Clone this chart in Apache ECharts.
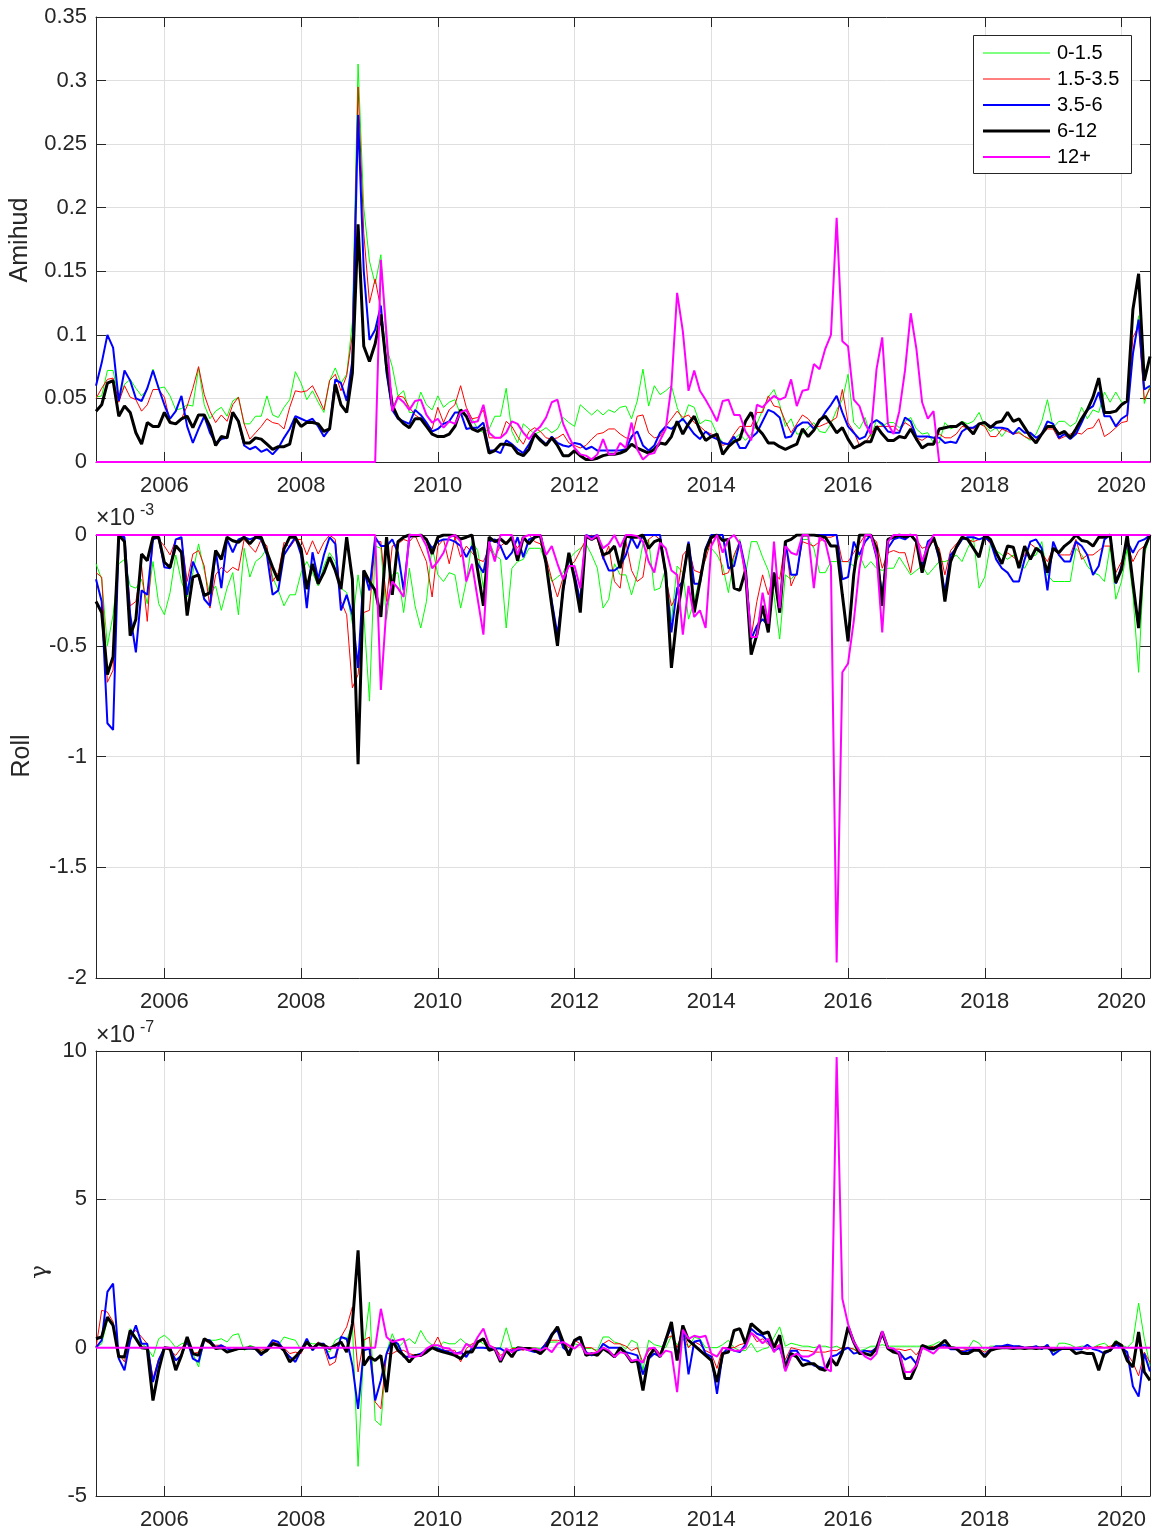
<!DOCTYPE html>
<html><head><meta charset="utf-8">
<script src="https://cdn.jsdelivr.net/npm/echarts@6/dist/echarts.min.js"></script>
<style>html,body{margin:0;padding:0;background:#fff}#c{width:1153px;height:1533px}</style>
</head><body><div id="c"></div>
<script>
// ---------------- DATA (monthly, Jan 2005 .. Jun 2020) ----------------
const seriesNames = ['0-1.5', '1.5-3.5', '3.5-6', '6-12', '12+'];
const tickYears = [2006, 2008, 2010, 2012, 2014, 2016, 2018, 2020];
const firstYear = 2005, nMonths = 186;

// Amihud
const amihud_g = [
0.051,0.052,0.072,0.072,0.049,0.061,0.065,0.058,0.052,0.057,0.073,0.058,
0.059,0.052,0.041,0.042,0.045,0.044,0.074,0.045,0.034,0.040,0.043,0.036,
0.048,0.051,0.030,0.030,0.036,0.036,0.052,0.037,0.035,0.043,0.049,0.071,
0.062,0.049,0.056,0.047,0.039,0.064,0.074,0.062,0.069,0.110,0.313,0.200,
0.158,0.140,0.163,0.090,0.075,0.052,0.056,0.039,0.039,0.055,0.045,0.041,
0.052,0.043,0.047,0.049,0.037,0.040,0.034,0.026,0.023,0.026,0.036,0.036,
0.058,0.024,0.015,0.030,0.026,0.022,0.024,0.027,0.023,0.026,0.035,0.031,
0.028,0.045,0.041,0.037,0.041,0.037,0.041,0.039,0.043,0.044,0.034,0.048,
0.073,0.044,0.060,0.053,0.056,0.060,0.043,0.032,0.045,0.043,0.030,0.033,
0.032,0.022,0.015,0.014,0.018,0.022,0.017,0.022,0.030,0.041,0.051,0.057,
0.045,0.028,0.034,0.022,0.022,0.027,0.031,0.024,0.023,0.030,0.041,0.049,
0.069,0.031,0.026,0.035,0.020,0.033,0.028,0.031,0.031,0.027,0.032,0.035,
0.026,0.022,0.023,0.015,0.015,0.031,0.026,0.028,0.032,0.030,0.032,0.039,
0.028,0.024,0.027,0.020,0.026,0.022,0.024,0.020,0.017,0.022,0.032,0.049,
0.027,0.032,0.032,0.028,0.031,0.043,0.034,0.041,0.039,0.055,0.047,0.055,
0.047,0.047,0.085,0.115,0.046,0.060];
const amihud_r = [
0.050,0.058,0.065,0.066,0.047,0.060,0.051,0.049,0.040,0.045,0.057,0.057,
0.051,0.032,0.030,0.034,0.044,0.058,0.075,0.053,0.040,0.031,0.037,0.032,
0.045,0.051,0.030,0.018,0.023,0.028,0.034,0.031,0.030,0.026,0.043,0.056,
0.055,0.056,0.060,0.051,0.041,0.064,0.069,0.056,0.068,0.100,0.295,0.180,
0.125,0.144,0.120,0.075,0.041,0.052,0.051,0.043,0.037,0.034,0.030,0.026,
0.043,0.031,0.041,0.045,0.060,0.043,0.034,0.035,0.041,0.019,0.019,0.019,
0.032,0.028,0.020,0.014,0.024,0.027,0.024,0.019,0.018,0.019,0.022,0.015,
0.013,0.011,0.013,0.018,0.022,0.023,0.026,0.026,0.022,0.019,0.018,0.036,
0.037,0.023,0.019,0.020,0.028,0.034,0.040,0.035,0.037,0.031,0.028,0.024,
0.022,0.019,0.013,0.015,0.022,0.028,0.028,0.028,0.039,0.039,0.052,0.044,
0.043,0.032,0.023,0.030,0.037,0.034,0.028,0.028,0.030,0.032,0.035,0.057,
0.031,0.024,0.013,0.015,0.022,0.028,0.028,0.028,0.028,0.024,0.031,0.028,
0.019,0.017,0.020,0.019,0.022,0.019,0.019,0.022,0.028,0.027,0.026,0.030,
0.028,0.020,0.020,0.026,0.024,0.022,0.023,0.020,0.018,0.017,0.022,0.026,
0.026,0.018,0.020,0.022,0.023,0.022,0.026,0.027,0.034,0.020,0.023,0.027,
0.031,0.032,0.098,0.107,0.049,0.058];
const amihud_b = [
0.060,0.078,0.100,0.090,0.048,0.072,0.064,0.050,0.048,0.058,0.072,0.058,
0.045,0.034,0.040,0.052,0.028,0.015,0.026,0.036,0.023,0.015,0.018,0.019,
0.039,0.032,0.013,0.010,0.012,0.008,0.010,0.006,0.011,0.019,0.026,0.036,
0.034,0.032,0.034,0.028,0.020,0.026,0.065,0.062,0.048,0.080,0.273,0.150,
0.096,0.104,0.123,0.070,0.041,0.034,0.032,0.030,0.041,0.037,0.031,0.024,
0.026,0.030,0.032,0.039,0.039,0.026,0.027,0.027,0.031,0.009,0.009,0.007,
0.017,0.014,0.010,0.007,0.014,0.022,0.018,0.014,0.020,0.015,0.013,0.012,
0.015,0.014,0.010,0.012,0.009,0.009,0.009,0.009,0.009,0.010,0.020,0.024,
0.013,0.009,0.013,0.023,0.028,0.026,0.030,0.034,0.028,0.022,0.018,0.024,
0.020,0.018,0.015,0.014,0.020,0.011,0.011,0.019,0.023,0.032,0.041,0.039,
0.035,0.019,0.020,0.028,0.031,0.031,0.026,0.032,0.039,0.045,0.052,0.039,
0.028,0.023,0.018,0.020,0.030,0.033,0.030,0.024,0.023,0.023,0.035,0.032,
0.020,0.020,0.020,0.019,0.019,0.015,0.016,0.015,0.024,0.027,0.027,0.030,
0.031,0.028,0.027,0.027,0.026,0.022,0.027,0.023,0.023,0.019,0.022,0.032,
0.030,0.019,0.022,0.018,0.022,0.031,0.041,0.044,0.055,0.036,0.036,0.028,
0.034,0.037,0.085,0.112,0.057,0.060];
const amihud_k = [
0.040,0.045,0.062,0.064,0.036,0.044,0.039,0.023,0.014,0.031,0.028,0.028,
0.039,0.031,0.030,0.034,0.036,0.027,0.037,0.037,0.028,0.013,0.020,0.019,
0.039,0.032,0.015,0.015,0.019,0.018,0.014,0.010,0.012,0.012,0.014,0.034,
0.028,0.031,0.031,0.030,0.024,0.026,0.061,0.045,0.039,0.070,0.187,0.091,
0.079,0.093,0.116,0.075,0.045,0.035,0.030,0.027,0.034,0.034,0.028,0.022,
0.020,0.020,0.022,0.028,0.041,0.036,0.026,0.024,0.027,0.007,0.009,0.014,
0.014,0.013,0.007,0.005,0.010,0.022,0.017,0.013,0.019,0.013,0.005,0.005,
0.009,0.005,0.002,0.002,0.003,0.005,0.006,0.006,0.007,0.009,0.014,0.011,
0.009,0.007,0.010,0.015,0.014,0.020,0.032,0.022,0.030,0.036,0.025,0.017,
0.020,0.022,0.006,0.012,0.016,0.018,0.032,0.039,0.027,0.022,0.015,0.015,
0.012,0.010,0.012,0.014,0.026,0.020,0.025,0.033,0.036,0.030,0.023,0.027,
0.018,0.011,0.013,0.016,0.016,0.028,0.022,0.017,0.017,0.020,0.019,0.026,
0.018,0.011,0.014,0.014,0.026,0.027,0.028,0.028,0.031,0.027,0.022,0.030,
0.031,0.027,0.031,0.032,0.039,0.032,0.034,0.027,0.020,0.015,0.022,0.028,
0.028,0.022,0.024,0.019,0.026,0.034,0.041,0.051,0.066,0.039,0.039,0.040,
0.045,0.048,0.120,0.148,0.064,0.083];
const amihud_m = [
0,0,0,0,0,0,0,0,0,0,0,0,
0,0,0,0,0,0,0,0,0,0,0,0,
0,0,0,0,0,0,0,0,0,0,0,0,
0,0,0,0,0,0,0,0,0,0,0,0,
0,0,0.159,0.100,0.040,0.051,0.047,0.041,0.048,0.049,0.037,0.031,
0.034,0.027,0.032,0.030,0.039,0.041,0.031,0.032,0.045,0.023,0.019,0.019,
0.023,0.032,0.030,0.023,0.018,0.024,0.028,0.035,0.047,0.049,0.030,0.020,
0.011,0.006,0.005,0.002,0.006,0.018,0.006,0.006,0.015,0.011,0.031,0.010,
0.002,0.006,0.007,0.017,0.026,0.060,0.133,0.103,0.056,0.072,0.056,0.049,
0.041,0.032,0.048,0.049,0.037,0.037,0.024,0.017,0.045,0.043,0.048,0.052,
0.049,0.051,0.065,0.044,0.056,0.057,0.077,0.073,0.089,0.100,0.192,0.095,
0.091,0.049,0.044,0.030,0.022,0.073,0.098,0.030,0.022,0.040,0.072,0.117,
0.089,0.047,0.034,0.040,0,0,0,0,0,0,0,0,
0,0,0,0,0,0,0,0,0,0,0,0,
0,0,0,0,0,0,0,0,0,0,0,0,
0,0,0,0,0,0];

// Roll (x 1e-3)
const roll_g = [
-0.13,-0.20,-0.50,-0.36,-0.13,-0.11,-0.23,-0.24,-0.20,-0.31,-0.12,-0.31,
-0.36,-0.26,-0.09,-0.21,-0.28,-0.17,-0.04,-0.16,-0.27,-0.23,-0.34,-0.24,
-0.17,-0.36,-0.06,-0.19,-0.12,-0.10,-0.06,-0.19,-0.25,-0.32,-0.27,-0.27,
-0.17,-0.12,-0.17,-0.23,-0.14,-0.08,-0.12,-0.24,-0.26,-0.40,-0.18,-0.36,
-0.75,-0.05,-0.06,-0.38,-0.18,-0.17,-0.35,-0.15,-0.32,-0.42,-0.30,-0.05,
-0.18,-0.21,-0.17,-0.18,-0.33,-0.21,-0.03,-0.07,-0.24,-0.03,-0.09,-0.11,
-0.42,-0.15,-0.12,-0.11,-0.06,-0.06,-0.06,-0.13,-0.21,-0.19,-0.17,-0.11,
-0.08,-0.06,-0.04,-0.09,-0.15,-0.33,-0.29,-0.13,-0.18,-0.18,-0.27,-0.18,
-0.04,-0.02,-0.25,-0.24,-0.15,-0.39,-0.14,-0.17,-0.38,-0.30,-0.19,-0.07,
-0.06,-0.09,-0.14,-0.26,-0.10,-0.02,-0.18,-0.03,-0.03,-0.10,-0.16,-0.27,
-0.47,-0.18,-0.20,-0.17,-0.02,-0.02,-0.06,-0.17,-0.17,-0.12,-0.12,-0.12,
-0.12,-0.14,-0.09,-0.15,-0.12,-0.15,-0.16,-0.15,-0.15,-0.10,-0.14,-0.18,
-0.16,-0.14,-0.18,-0.15,-0.12,-0.12,-0.11,-0.09,-0.12,-0.06,-0.01,-0.24,
-0.19,-0.04,-0.07,-0.09,-0.11,-0.09,-0.13,-0.15,-0.10,-0.09,-0.03,-0.18,
-0.21,-0.21,-0.21,-0.21,-0.06,-0.09,-0.14,-0.17,-0.18,-0.21,-0.05,-0.29,
-0.21,-0.06,-0.27,-0.62,-0.09,0];
const roll_r = [
-0.17,-0.19,-0.665,-0.61,-0.01,-0.02,-0.32,-0.30,-0.14,-0.39,-0.01,-0.02,
-0.05,-0.09,-0.02,-0.02,-0.21,-0.086,-0.07,-0.14,-0.33,-0.18,-0.146,-0.17,
-0.146,-0.16,-0.02,-0.05,-0.078,-0.02,-0.05,-0.21,-0.17,-0.033,-0.056,-0.02,
-0.02,-0.09,-0.026,-0.086,-0.033,0,-0.02,-0.30,-0.36,-0.69,-0.63,-0.35,
-0.34,-0.03,-0.03,-0.30,-0.05,-0.04,-0.02,-0.03,0,-0.06,-0.12,-0.28,
-0.05,-0.02,-0.13,-0.01,-0.10,-0.05,-0.08,-0.11,-0.12,-0.06,-0.10,-0.05,
-0.03,-0.02,-0.06,-0.01,0,-0.03,-0.04,-0.10,-0.20,-0.28,-0.19,-0.14,
-0.12,-0.07,-0.02,0,-0.02,-0.11,-0.05,-0.21,-0.24,-0.03,-0.16,-0.21,
-0.19,-0.02,0,-0.02,-0.19,-0.32,-0.27,-0.09,-0.06,-0.16,-0.17,-0.11,
-0.02,0,-0.18,-0.17,-0.09,-0.03,-0.20,-0.46,-0.30,-0.18,-0.27,-0.17,
-0.20,-0.03,-0.23,-0.17,-0.03,-0.04,-0.05,-0.03,-0.01,-0.01,0,-0.12,
-0.12,-0.08,-0.04,0,-0.01,-0.03,-0.15,-0.08,-0.07,-0.08,-0.08,-0.17,
-0.02,-0.06,-0.05,-0.03,-0.06,-0.18,-0.07,-0.04,-0.01,-0.02,-0.03,-0.02,
-0.01,-0.04,-0.08,-0.12,-0.08,-0.10,-0.12,-0.09,-0.04,-0.06,-0.08,-0.12,
-0.06,-0.09,-0.09,-0.09,-0.02,-0.11,-0.09,-0.09,-0.07,-0.05,-0.05,-0.17,
-0.12,-0.04,-0.12,-0.07,-0.05,0];
const roll_b = [
-0.20,-0.30,-0.85,-0.88,0,-0.01,-0.36,-0.53,-0.25,-0.27,-0.02,-0.01,
-0.146,-0.15,-0.02,-0.01,-0.27,-0.12,-0.18,-0.29,-0.32,-0.07,-0.24,-0.02,
-0.078,-0.02,-0.01,-0.02,-0.01,-0.02,-0.09,-0.27,-0.25,-0.09,-0.05,-0.01,
-0.09,-0.33,-0.078,-0.20,-0.09,-0.01,-0.04,-0.34,-0.27,-0.36,-0.60,-0.16,
-0.25,-0.01,-0.05,-0.05,-0.02,-0.08,-0.25,-0.01,0,0,-0.02,-0.06,
-0.03,-0.02,-0.02,-0.03,-0.05,-0.10,-0.05,-0.13,-0.17,-0.03,-0.02,-0.05,
-0.11,-0.08,-0.01,-0.10,-0.02,-0.01,0,-0.12,-0.30,-0.45,-0.25,-0.10,
-0.18,-0.30,0,-0.01,0,-0.10,-0.16,-0.16,-0.14,-0.09,-0.01,-0.06,
0,0,0,0,-0.18,-0.44,-0.24,-0.21,-0.03,-0.22,-0.22,-0.06,
0,0,0,-0.15,-0.14,-0.03,-0.15,-0.47,-0.41,-0.38,-0.41,-0.17,
-0.35,-0.03,-0.18,-0.18,0,0,0,0,0,0,0,-0.20,
-0.19,-0.03,-0.09,-0.03,0,-0.10,-0.27,-0.06,-0.02,-0.01,-0.02,0,
-0.03,-0.14,-0.03,-0.01,-0.11,-0.26,-0.09,-0.06,-0.02,-0.01,-0.01,-0.02,
-0.01,-0.03,-0.11,-0.15,-0.17,-0.21,-0.21,-0.11,-0.03,-0.02,-0.06,-0.25,
-0.03,-0.09,-0.12,-0.12,-0.03,-0.05,-0.09,-0.18,-0.14,-0.02,0,-0.22,
-0.14,-0.03,-0.08,-0.03,-0.02,0];
const roll_k = [
-0.30,-0.35,-0.63,-0.55,0,-0.03,-0.455,-0.38,-0.086,-0.116,-0.01,-0.01,
-0.123,-0.146,-0.048,-0.078,-0.364,-0.19,-0.18,-0.274,-0.26,-0.07,-0.11,-0.01,
-0.026,-0.033,-0.01,-0.04,-0.01,-0.01,-0.078,-0.146,-0.206,-0.063,-0.01,-0.01,
-0.063,-0.244,-0.131,-0.22,-0.17,-0.10,-0.16,-0.244,-0.01,-0.20,-1.035,-0.16,
-0.21,-0.25,-0.37,-0.01,-0.27,-0.03,-0.01,0,-0.005,0,-0.02,-0.086,
-0.01,0,0,-0.003,-0.018,-0.01,0,-0.16,-0.32,-0.01,-0.03,-0.018,
-0.04,-0.01,-0.116,-0.01,-0.04,-0.01,-0.003,-0.13,-0.32,-0.50,-0.24,-0.08,
-0.20,-0.35,-0.005,-0.02,-0.005,-0.09,-0.08,-0.05,-0.15,-0.005,-0.01,-0.01,
0,-0.06,-0.03,-0.02,-0.17,-0.60,-0.36,-0.20,-0.04,-0.35,-0.21,-0.07,
-0.01,0,-0.025,-0.02,-0.24,-0.25,-0.16,-0.54,-0.45,-0.32,-0.44,-0.17,
-0.35,-0.03,-0.02,0,0,0,0,-0.005,-0.01,-0.05,-0.05,-0.27,
-0.48,-0.18,0,0,0,-0.06,-0.32,-0.02,-0.01,0,-0.01,0,
-0.03,-0.17,-0.06,-0.01,-0.09,-0.30,-0.12,-0.055,-0.01,-0.02,-0.06,-0.10,
0,-0.02,-0.08,-0.13,-0.05,-0.055,-0.15,-0.05,-0.11,-0.06,-0.08,-0.17,
-0.06,-0.08,-0.05,-0.03,0,-0.025,-0.03,-0.05,-0.01,-0.01,0,-0.215,
-0.155,0,-0.215,-0.42,-0.06,0];
const roll_m = [
0,0,0,0,0,0,0,0,0,0,0,0,
0,0,0,0,0,0,0,0,0,0,0,0,
0,0,0,0,0,0,0,0,0,0,0,0,
0,0,0,0,0,0,0,0,0,0,0,0,
0,0,-0.70,-0.32,-0.21,-0.24,-0.28,0,0,0,-0.05,-0.15,
-0.12,-0.08,-0.01,0,-0.03,-0.21,-0.13,-0.29,-0.45,-0.03,-0.12,0,
0,0,-0.09,-0.01,0,0,0,-0.09,-0.05,-0.13,-0.20,-0.14,
-0.14,-0.24,0,-0.02,0,-0.06,-0.04,0,-0.055,0,0,-0.005,
-0.03,-0.12,-0.17,-0.035,-0.06,-0.16,-0.18,-0.45,-0.23,-0.37,-0.34,-0.42,
-0.05,0,-0.08,-0.02,0,-0.04,-0.17,-0.46,-0.46,-0.26,-0.40,-0.03,
-0.33,-0.05,-0.08,-0.09,0,0,-0.24,-0.01,-0.03,-0.14,-1.93,-0.62,
-0.58,-0.39,-0.15,0,0,-0.09,-0.44,-0.03,0,0,0,0,
0,-0.12,-0.05,0,0,0,0,0,0,0,0,0,
0,0,0,0,0,0,0,0,0,0,0,0,
0,0,0,0,0,0,0,0,0,0,0,0,
0,0,0,0,0,0];

// gamma (x 1e-7)
const gamma_g = [
0,0.13,0.92,0.87,-0.26,-0.37,0.64,0.36,0.13,0,-0.31,0.30,
0.42,0.25,0,0.13,0.19,-0.20,-0.65,0.30,0.25,0.25,0.30,0.19,
0.42,0.47,-0.09,0.08,0,-0.09,-0.03,0.19,0.08,0.36,0.30,0.25,
-0.09,0.19,0.13,0.13,-0.03,-0.15,0.25,0.36,0.25,0.80,-4.0,0,
1.54,-2.45,-2.62,-0.15,0.47,0,0.19,0.30,0.13,0.58,0.25,0.08,
0,0.19,0.13,0.13,0.30,0.13,0.08,0.25,0.13,0,-0.03,0,
0.67,0,0,-0.03,0,0,-0.03,0.13,0.19,0.19,0.13,0,
0.13,0.08,-0.03,-0.03,-0.09,0.36,0.36,0.19,0.13,-0.05,0.25,0.15,
-0.75,0.25,0.10,0.05,0,0.40,0.10,0.30,0,0.35,0.30,0,
0,0,0.10,0.25,0,-0.10,-0.10,0.15,-0.15,-0.05,0,0.35,
0.70,0.05,0.15,0.10,0.05,0.05,0,0.05,0.05,0,0.05,-0.05,
0,-0.05,-0.10,-0.05,0.05,0.05,0.10,0.05,0.05,0.05,0.05,0.05,
0.05,0.05,0.05,0.10,0.20,0.10,0.05,0,0,-0.05,0.25,0.15,
-0.10,0.05,0.05,0.05,0.05,0.05,0.05,0,0,0.05,0,0.05,
-0.25,0.15,0.15,0.10,0,0.05,0.05,0,0.10,0.15,0,0.25,
0.10,0,0.20,1.50,0.30,-0.60];
const gamma_r = [
0,1.26,1.20,0.87,-0.20,-0.48,0.47,0.58,0.36,0.13,-1.04,-0.37,
-0.03,-0.09,-0.26,0,0.13,-0.20,-0.15,0.25,0.13,0.08,0.08,0,
0,-0.03,0,-0.03,-0.03,-0.09,-0.03,0.19,0.13,0,-0.20,-0.15,
-0.20,0.25,0,0.19,0,-0.60,-0.48,0.36,0.70,1.37,-0.82,0.25,
0.36,-1.83,-2.06,-0.20,-0.20,-0.09,-0.09,-0.20,-0.26,-0.26,-0.09,0,
0.36,-0.09,-0.09,-0.09,-0.48,-0.03,0.13,0.19,0.25,0.08,0,-0.26,
-0.15,-0.03,-0.03,-0.09,0,-0.03,-0.09,0.19,0.25,0.25,0.19,0,
0.25,0.13,0,0,-0.15,0.13,0.25,0.13,0.13,0.05,-0.10,0,
-0.50,-0.10,0,-0.20,0.30,0.40,0,0.60,0,0.20,0.10,-0.10,
-0.20,-0.70,0,0,0,0.10,0.15,0.50,0.20,0.30,0.10,0,
0.10,-0.40,0,-0.05,-0.10,-0.10,-0.15,-0.15,-0.15,-0.10,-0.10,0,
0,-0.05,-0.20,-0.10,-0.10,-0.10,0.40,0,-0.05,-0.05,-0.10,-0.05,
-0.25,0.05,0,0.05,0,0.05,0,-0.05,-0.10,-0.05,-0.10,-0.05,
-0.15,-0.05,0,0.05,0.05,0,0.05,0,0,0,0,0.05,
-0.05,0,0,0,-0.05,0,-0.05,0,0.05,0,0.05,0.10,
0.05,-0.20,-0.50,-0.95,-0.15,-0.50];
const gamma_b = [
0,0.25,1.88,2.16,-0.37,-0.76,0.25,0.75,0.13,0.13,-1.16,-0.43,
0,-0.03,-0.43,-0.26,0.25,-0.37,-0.48,0.25,0.25,0,0.08,-0.03,
-0.09,-0.03,-0.03,-0.03,-0.03,-0.26,-0.03,0.25,0.19,-0.09,-0.31,-0.48,
-0.09,0.30,-0.09,0.13,0.13,-0.37,-0.31,0.36,0.30,-0.60,-2.06,-0.09,
-0.03,-1.78,-1.10,-0.20,0.25,0.13,-0.31,-0.31,-0.26,-0.20,-0.09,0,
-0.03,-0.09,-0.15,-0.20,-0.15,-0.31,0,0,0,-0.03,-0.03,-0.03,
-0.15,-0.09,-0.09,-0.03,-0.09,-0.15,-0.09,0.13,0.47,0.58,0,-0.15,
0.25,0.30,-0.15,-0.26,-0.20,0.13,0,0,0,-0.15,-0.20,-0.26,
-0.90,-0.37,-0.20,-0.30,0.30,0.67,-0.30,0.75,-0.90,0.20,0.25,-0.20,
-0.30,-1.56,-0.20,0,-0.10,-0.15,0.10,0.64,0.47,0.40,0.20,-0.10,
0,-0.60,-0.10,-0.10,-0.40,-0.45,-0.60,-0.65,-0.70,-0.30,-0.25,-0.10,
0,-0.20,-0.15,-0.10,-0.15,0,0.45,0,-0.10,-0.15,-0.40,-0.30,
-0.55,0.05,-0.05,-0.05,0.05,0.10,-0.05,-0.05,-0.15,-0.10,-0.05,-0.10,
-0.25,-0.05,0.05,0.05,0.10,0.05,0.05,0,0,0.05,-0.05,0.10,
-0.25,-0.10,0,-0.05,-0.05,-0.05,0.10,-0.05,-0.10,-0.20,-0.10,0.10,
0,-0.15,-1.30,-1.65,-0.20,-0.80];
const gamma_k = [
0.30,0.36,1.03,0.75,-0.31,-0.31,0.58,0.30,0,-0.03,-1.78,-0.76,
0,-0.03,-0.76,-0.26,0.36,-0.20,-0.26,0.30,0.19,-0.03,0,-0.15,
-0.09,-0.03,-0.03,0,-0.03,-0.20,-0.09,0.13,0.08,-0.09,-0.48,-0.31,
-0.09,0.19,-0.03,0.13,0.08,-0.03,0.08,0.19,-0.15,0.80,3.28,-0.60,
-0.31,-0.43,-0.26,-1.50,0.25,-0.09,-0.26,-0.48,-0.26,-0.26,-0.15,0,
-0.09,-0.15,-0.20,-0.26,-0.37,-0.15,-0.15,0.19,0.30,-0.09,-0.03,-0.48,
-0.09,-0.31,0,-0.03,-0.03,-0.09,-0.20,0,0.42,0.70,0.19,-0.26,
0.25,0.36,-0.26,-0.20,-0.26,-0.03,-0.15,-0.31,0,-0.20,-0.48,-0.43,
-1.44,-0.31,-0.03,-0.31,0.25,0.87,-0.43,0.75,0.25,0.08,-0.09,-0.26,
-0.43,-1.16,-0.20,-0.15,0.58,0.64,0.13,0.81,0.64,0.47,0.53,0,
0.42,-0.71,-0.20,-0.31,-0.60,-0.54,-0.54,-0.71,-0.76,-0.37,-0.60,-0.15,
0.70,0.19,-0.20,-0.20,-0.26,-0.03,0.53,-0.03,-0.15,-0.20,-1.04,-1.04,
-0.60,0.08,0,-0.03,0.08,0.25,0,-0.03,-0.20,-0.20,-0.09,-0.09,
-0.31,-0.09,-0.03,0,0,-0.03,0,-0.03,0,-0.03,0,0,
-0.09,-0.03,-0.03,-0.03,-0.20,-0.15,-0.20,-0.20,-0.76,-0.15,-0.09,0.19,
0.08,-0.43,-0.65,0.53,-0.82,-1.10];
const gamma_m = [
0,0,0,0,0,0,0,0,0,0,0,0,
0,0,0,0,0,0,0,0,0,0,0,0,
0,0,0,0,0,0,0,0,0,0,0,0,
0,0,0,0,0,0,0,0,0,0,0,0,
0,0,1.31,0.36,0.19,0.25,0.30,-0.31,-0.31,-0.26,-0.03,0.08,
0.08,0,-0.03,-0.20,-0.20,0.13,0,0.36,0.64,0.08,-0.03,-0.43,
-0.03,-0.15,-0.03,-0.03,-0.09,-0.03,-0.09,0,-0.15,0.13,0.19,0.08,
-0.03,0.13,-0.20,-0.20,-0.15,0,-0.09,-0.31,-0.15,-0.20,-0.45,-0.40,
-0.50,-0.03,0,-0.30,-0.10,-0.15,-1.50,0.60,0.30,0.40,0.35,0.40,
-0.20,-0.30,0,-0.05,-0.10,-0.10,0,0.50,0.35,0.15,0.30,-0.15,
0.10,-0.80,-0.30,-0.20,-0.30,-0.30,-0.20,0.10,-0.70,-0.80,9.80,1.65,
0.80,0.20,-0.10,-0.30,-0.40,-0.20,0.56,0,-0.03,-0.20,-0.82,-0.82,
-0.60,0,-0.09,-0.20,0,0,0,0,0,0,0,0,
0,0,0,0,0,0,0,0,0,0,0,0,
0,0,0,0,0,0,0,0,0,0,0,0,
0,0,0,0,0,0];

// ---------------- CHART ----------------
const FONT = '"Liberation Sans", Arial, Helvetica, sans-serif';
const AX = '#262626', GRIDC = '#dfdfdf';
const monthX = Array.from({length: nMonths}, (_, i) => firstYear + i / 12);
const xMax = firstYear + (nMonths - 1) / 12;

const panels = [
  {data: [amihud_g, amihud_r, amihud_b, amihud_k, amihud_m], min: 0, max: 0.35, interval: 0.05},
  {data: [roll_g, roll_r, roll_b, roll_k, roll_m], min: -2, max: 0, interval: 0.5},
  {data: [gamma_g, gamma_r, gamma_b, gamma_k, gamma_m], min: -5, max: 10, interval: 5}
];
const styles = [
  {color: '#00ff00', width: 1},
  {color: '#ff0000', width: 1},
  {color: '#0000ff', width: 2},
  {color: '#000000', width: 3},
  {color: '#ff00ff', width: 2}
];
const gridBoxes = [{top: 17, height: 445}, {top: 535, height: 443}, {top: 1051, height: 445}];

const grid = gridBoxes.map(b => ({left: 96, width: 1054, top: b.top, height: b.height, containLabel: false}));
const xAxis = [], yAxis = [], series = [];
panels.forEach((p, gi) => {
  xAxis.push({
    gridIndex: gi, type: 'value', position: 'bottom', min: firstYear, max: xMax,
    axisLine: {show: true, onZero: false, lineStyle: {color: AX, width: 1}},
    axisTick: {show: true, inside: true, length: 10, customValues: tickYears, lineStyle: {color: AX, width: 1}},
    axisLabel: {show: true, customValues: tickYears, formatter: v => String(Math.round(v)), color: AX, fontSize: 22, fontFamily: FONT, margin: 13},
    splitLine: {show: true, lineStyle: {color: GRIDC, width: 1}}
  });
  xAxis.push({
    gridIndex: gi, type: 'value', position: 'top', min: firstYear, max: xMax,
    axisLine: {show: true, onZero: false, lineStyle: {color: AX, width: 1}},
    axisTick: {show: true, inside: true, length: 10, customValues: tickYears, lineStyle: {color: AX, width: 1}},
    axisLabel: {show: false}, splitLine: {show: false}
  });
  yAxis.push({
    gridIndex: gi, type: 'value', position: 'left', min: p.min, max: p.max, interval: p.interval,
    axisLine: {show: true, onZero: false, lineStyle: {color: AX, width: 1}},
    axisTick: {show: true, inside: true, length: 10, lineStyle: {color: AX, width: 1}},
    axisLabel: {show: true, color: AX, fontSize: 22, fontFamily: FONT, margin: 9},
    splitLine: {show: true, lineStyle: {color: GRIDC, width: 1}}
  });
  yAxis.push({
    gridIndex: gi, type: 'value', position: 'right', min: p.min, max: p.max, interval: p.interval,
    axisLine: {show: true, onZero: false, lineStyle: {color: AX, width: 1}},
    axisTick: {show: true, inside: true, length: 10, lineStyle: {color: AX, width: 1}},
    axisLabel: {show: false}, splitLine: {show: false}
  });
  p.data.forEach((arr, si) => {
    series.push({
      type: 'line', name: seriesNames[si], xAxisIndex: gi * 2, yAxisIndex: gi * 2,
      data: arr.map((v, i) => [monthX[i], v]),
      symbol: 'none', showSymbol: false, silent: true, animation: false,
      lineStyle: {color: styles[si].color, width: styles[si].width},
      itemStyle: {color: styles[si].color},
      z: 2 + si
    });
  });
});

const txt = (x, y, text, size, family, opts) => Object.assign({
  type: 'text', x: x, y: y, silent: true, z: 100,
  style: {text: text, fill: AX, font: size + 'px ' + (family || FONT), textAlign: 'left', textVerticalAlign: 'bottom'}
}, opts || {});
const vlabel = (x, y, text, size, family) => ({
  type: 'text', x: x, y: y, rotation: Math.PI / 2, silent: true, z: 100,
  style: {text: text, fill: AX, font: size + 'px ' + (family || FONT), textAlign: 'center', textVerticalAlign: 'middle'}
});

// legend box (drawn as plain graphics so the sample lines carry no symbols)
const legendBox = {left: 973, top: 35, width: 158, height: 138, rowTop: 53, rowStep: 26, lineX0: 983, lineX1: 1050, textX: 1057};
const legendGraphics = [{
  type: 'rect', z: 100, silent: true,
  shape: {x: legendBox.left + 0.5, y: legendBox.top + 0.5, width: legendBox.width, height: legendBox.height},
  style: {fill: '#ffffff', stroke: AX, lineWidth: 1}
}];
seriesNames.forEach((name, k) => {
  const y = legendBox.rowTop + k * legendBox.rowStep;
  legendGraphics.push({
    type: 'line', z: 101, silent: true,
    shape: {x1: legendBox.lineX0, y1: y, x2: legendBox.lineX1, y2: y},
    style: {stroke: styles[k].color, lineWidth: styles[k].width}
  });
  legendGraphics.push({
    type: 'text', z: 101, silent: true, x: legendBox.textX, y: y,
    style: {text: name, fill: '#000000', font: '20px ' + FONT, textAlign: 'left', textVerticalAlign: 'middle'}
  });
});

const graphic = [
  vlabel(20, 240, 'Amihud', 25),
  vlabel(22, 756, 'Roll', 25),
  vlabel(40, 1272, 'γ', 23, '"DejaVu Serif", serif'),
  txt(96, 530, '×10', 23),
  txt(140, 519, '-3', 16),
  txt(96, 1047, '×10', 23),
  txt(140, 1036, '-7', 16)
].concat(legendGraphics);

const chart = echarts.init(document.getElementById('c'), null, {renderer: 'canvas'});
chart.setOption({
  backgroundColor: '#ffffff',
  animation: false,
  grid: grid, xAxis: xAxis, yAxis: yAxis, series: series,
  graphic: {elements: graphic}
});
</script>
</body></html>
